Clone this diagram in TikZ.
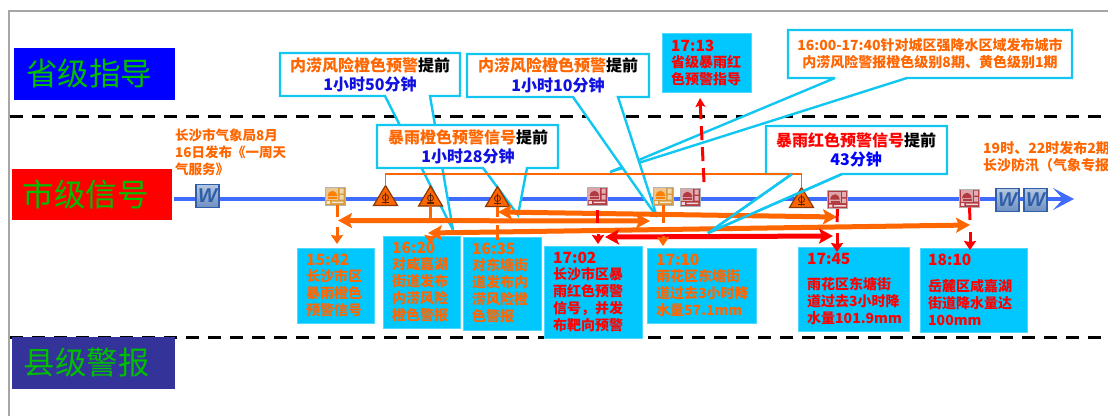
\documentclass[tikz,border=0pt]{standalone}
\usepackage{fontspec}
\setmainfont{Noto Sans CJK SC}
\newfontfamily\wordfont{Liberation Sans}
\usetikzlibrary{arrows.meta}
\definecolor{cy}{HTML}{00C8FF}
\definecolor{cyl}{HTML}{12C6F2}
\definecolor{ora}{HTML}{FF6600}
\definecolor{tlblue}{HTML}{3F6BFF}
\definecolor{redd}{HTML}{FF0000}
\definecolor{grn}{HTML}{00BE00}
\definecolor{txtblue}{HTML}{1010E0}
\definecolor{tan}{HTML}{D89A3A}
\definecolor{brk}{HTML}{B23A42}
\definecolor{wordb}{HTML}{2F5FA8}
\newcommand{\sz}[2]{\fontsize{#1}{#2}\selectfont}
\newcommand{\tm}[1]{{\fontsize{15.5}{16.7}\selectfont #1}}
\tikzset{
  levelbox/.style={inner sep=0pt,text=grn,font=\sz{31.5}{36}},
  infobox/.style={fill=cy,draw=cy!70!white,line width=.6pt,inner sep=0pt},
  infotext/.style={anchor=north west,inner sep=0pt,align=left,font=\sz{14}{16.7}\bfseries},
  calltext/.style={inner sep=0pt,align=center,font=\sz{16}{19.5}\bfseries},
  callline/.style={draw=cyl,line width=2.4pt,line join=miter,miter limit=3},
  sigbox/.style={draw=black!30,line width=.9pt,minimum width=20pt,minimum height=18pt,inner sep=0pt},
  wordbox/.style={draw=wordb,line width=1.4pt,top color=wordb!35!white,bottom color=wordb!70!white,minimum width=23pt,minimum height=23pt,inner sep=0pt,text=wordb,font=\wordfont\sz{20}{20}\bfseries\itshape},
  bigarrow/.style={line width=5pt,draw=ora},
  tipO/.style={{Stealth[length=14pt,width=15pt,inset=3pt]}-{Stealth[length=14pt,width=15pt,inset=3pt]}},
  conn/.style={line width=3pt},
  down/.style={-{Stealth[length=9pt,width=12pt,inset=1pt]}},
}
\newcommand{\info}[9]{% name cx cy w h tx ty colour text
  \node[infobox,minimum width=#4pt,minimum height=#5pt] (#1) at (#2,#3) {};
  \node[infotext,text=#8] (#1t) at (#6,#7) {\rule{0pt}{12pt}#9};
}
\newcommand{\sig}[6]{% name x y fill light dome
  \node[sigbox,fill=#4] (#1) at (#2,#3) {};
  \begin{scope}[shift={(#2,#3)}]
    \fill[#5] (-9,-8) rectangle (3.2,3.5);
    \fill[#6] (-7.5,0) .. controls (-6,-7) and (1,-7) .. (2.2,0) -- cycle;
    \fill[#6] (-7,1) rectangle (2,3);
    \fill[white!60!#4] (4.5,-7.4) rectangle (8.6,-2.3) (4.5,-.8) rectangle (8.6,3.6);
    \fill[white!80!#4] (-8.5,5) rectangle (-5.2,7.8) (-3.5,5.6) rectangle (8.4,7.2);
  \end{scope}
}
\newcommand{\tri}[3]{% name x ybase
  \coordinate (#1) at (#2,#3);
  \begin{scope}[shift={(#2,#3)}]
    \draw[fill=ora,draw=black!45!ora,line width=1.2pt,line join=miter] (-12,0) -- (0,-20) -- (12,0) -- cycle;
    \draw[black!65!ora,line width=.8pt] (0,-8) circle (3) (0,-13) -- (0,-2);
    \fill[black!65!ora] (-3.5,-3.6) rectangle (3.5,-2.2);
  \end{scope}
}
\def\pD{(788,30) -- (1072,30) -- (1072,78) -- (907,78) -- (610,172) -- (835,78) -- (788,78) -- cycle}
\def\pB{(467,54) -- (649,54) -- (649,97) -- (618,97) -- (657,217) -- (573,97) -- (467,97) -- cycle}
\def\pA{(280,53) -- (460,53) -- (460,96) -- (430,96) -- (453,230) -- (385,96) -- (280,96) -- cycle}
\def\pC{(377,125) -- (558,125) -- (558,168) -- (527,168) -- (518,215) -- (483,168) -- (377,168) -- cycle}
\def\pE{(766,126) -- (947,126) -- (947,174) -- (842,174) -- (708,233) -- (792,174) -- (766,174) -- cycle}
\begin{document}
\begin{tikzpicture}[x=1pt,y=-1pt]
\useasboundingbox (0,0) rectangle (1108,416);
% frame and level separators
\coordinate (fa) at (1108,11); \coordinate (fb) at (9,11); \coordinate (fc) at (9,416);
\draw[black!35,line width=1.5pt] (fa) -- (fb) -- (fc);
\coordinate (da) at (10,116); \coordinate (db) at (1108,116);
\coordinate (dc) at (10,337); \coordinate (dd) at (1108,337);
\draw[line width=3pt,dash pattern=on 13pt off 9pt] (da) -- (db);
\draw[line width=3pt,dash pattern=on 13pt off 9pt] (dc) -- (dd);
% level labels
\node[fill=blue,minimum width=161pt,minimum height=52pt,inner sep=0pt] (l1) at (94.5,74) {};
\node[fill=redd,minimum width=160pt,minimum height=51pt,inner sep=0pt] (l2) at (92,194.5) {};
\node[fill={rgb:red,51;green,51;blue,153},minimum width=163pt,minimum height=52pt,inner sep=0pt] (l3) at (93.5,363) {};
\node[levelbox] (l1t) at (89,73.5) {省级指导};
\node[levelbox] (l2t) at (85.5,194) {市级信号};
\node[levelbox] (l3t) at (86.5,363) {县级警报};
% time line
\coordinate (tls) at (174,199); \coordinate (tle) at (1074,199);
\draw[tlblue,line width=4.5pt,-{Stealth[length=21pt,width=22pt,inset=10pt]}] (tls) -- (tle);
% callouts
\path[fill=white] \pD; \path[callline] \pD;
\path[fill=white] \pB; \path[callline] \pB;
\path[fill=white] \pA; \path[callline] \pA;
\path[fill=white] \pC; \path[callline] \pC;
\path[fill=white] \pE; \path[callline] \pE;
\node[calltext] (ca) at (370,75) {{\color{ora}内涝风险橙色预警}提前\\{\color{txtblue}1小时50分钟}};
\node[calltext] (cb) at (558,75.5) {{\color{ora}内涝风险橙色预警}提前\\{\color{txtblue}1小时10分钟}};
\node[calltext] (cc) at (468,147) {{\color{ora}暴雨橙色预警信号}提前\\{\color{txtblue}1小时28分钟}};
\node[calltext] (ce) at (856,150) {{\color{redd}暴雨红色预警信号}提前\\{\color{blue}43分钟}};
\node[calltext,text=ora,font=\sz{14}{17}\bfseries] (cd) at (930,53.5) {16:00-17:40针对城区强降水区域发布城市\\内涝风险警报橙色级别8期、黄色级别1期};
% free texts
\node[infotext,text=ora,font=\sz{13.5}{17}\bfseries] (n1) at (175,128) {\rule{0pt}{12pt}长沙市气象局8月\\16日发布《一周天\\气服务》};
\node[infotext,text=ora,font=\sz{14}{17.5}\bfseries] (n2) at (983,141) {\rule{0pt}{12pt}19时、22时发布2期\\长沙防汛（气象专报};
% info boxes
\info{b1}{335.5}{285.5}{77}{75}{306}{253}{ora}{\tm{15:42}\\长沙市区\\暴雨橙色\\预警信号}
\info{b2}{421.5}{282}{77}{92}{392}{241}{ora}{\tm{16:20}\\对咸嘉湖\\街道发布\\内涝风险\\橙色警报}
\info{b3}{502}{283.5}{78}{93}{472}{242}{ora}{\tm{16:35}\\对东塘街\\道发布内\\涝风险橙\\色警报}
\info{b4}{593}{292}{98}{92}{553}{251}{redd}{\tm{17:02}\\长沙市区暴\\雨红色预警\\信号，并发\\布靶向预警}
\info{b5}{701.5}{285.5}{109}{75}{656}{253}{ora}{\tm{17:10}\\雨花区东塘街\\道过去3小时降\\水量57.1mm}
\info{b6}{853.5}{289}{111}{84}{807}{252}{redd}{\tm{17:45}\\[9pt]雨花区东塘街\\道过去3小时降\\水量101.9mm}
\info{b7}{973.5}{290}{107}{84}{928}{253}{redd}{\tm{18:10}\\[10pt]岳麓区咸嘉湖\\街道降水量达\\100mm}
\info{b8}{706.5}{62.5}{89}{59}{671}{39}{redd}{\tm{17:13}\\省级暴雨红\\色预警指导}
% icons
\node[wordbox] (w1) at (207.5,196) {W};
\node[wordbox] (w2) at (1007.5,200) {W};
\node[wordbox] (w3) at (1035.5,200) {W};
\sig{s1}{335}{196}{tan}{tan!55!white}{orange}
\sig{s2}{597}{196}{brk}{brk!45!white}{brk}
\sig{s3}{663}{196}{tan}{tan!55!white}{orange}
\sig{s4}{690}{197}{brk}{brk!45!white}{brk}
\sig{s5}{837.5}{199.5}{brk}{brk!45!white}{brk}
\sig{s6}{969.5}{198}{brk}{brk!45!white}{brk}
\tri{t1}{385.5}{205.5}
\tri{t2}{430.5}{206}
\tri{t3}{497.5}{206.5}
\tri{t4}{801.5}{207.5}
% orange bracket line over the triangles
\draw[ora,line width=1.5pt] (t1) ++(0,-20) |- (801.5,174) -- ++(0,14);
% horizontal period arrows
\coordinate (a1l) at (338,220.5); \coordinate (a1r) at (650,221);
\coordinate (a2l) at (498,212); \coordinate (a2r) at (837,217);
\coordinate (a3l) at (428,233); \coordinate (a3r) at (970,225);
\coordinate (a4l) at (605,237); \coordinate (a4r) at (833,236);
\draw[bigarrow,tipO] (a2l) -- (a2r);
\draw[bigarrow,tipO] (a3l) -- (a3r);
\draw[bigarrow,tipO] (a1l) -- (a1r);
\draw[bigarrow,draw=redd,tipO] (a4l) -- (a4r);
% redraw of the red callout's tail above the arrows
\path[callline] (842,174) -- (708,233) -- (792,174);
% connectors from icons down to boxes
\coordinate (k1a) at (337,217); \coordinate (k1b) at (337,227); \coordinate (k1c) at (337,244);
\draw[conn,ora] (s1.south) ++(2,0) -- (k1a);
\draw[conn,ora,down] (k1b) -- (k1c);
\coordinate (k2a) at (430.5,221); \coordinate (k2b) at (430.5,236); \coordinate (k2c) at (430.5,244);
\draw[conn,ora] (t2) -- (k2a);
\draw[conn,ora,down] (k2b) -- (k2c);
\coordinate (k3a) at (497.5,217); \coordinate (k3b) at (497.5,225); \coordinate (k3c) at (497.5,240);
\draw[conn,ora] (t3) -- (k3a);
\draw[conn,ora,line width=3.5pt] (k3b) -- (k3c);
\coordinate (k4a) at (597,210); \coordinate (k4b) at (597,223); \coordinate (k4c) at (598,234); \coordinate (k4d) at (598,244);
\draw[conn,redd] (k4a) -- (k4b);
\draw[conn,redd,down] (k4c) -- (k4d);
\coordinate (k5a) at (663,223); \coordinate (k5b) at (663,236); \coordinate (k5c) at (663,246);
\draw[conn,ora] (s3.south) -- (k5a);
\draw[conn,ora,down] (k5b) -- (k5c);
\coordinate (k6a) at (837,222); \coordinate (k6b) at (837,233); \coordinate (k6c) at (837,252);
\draw[conn,redd] (s5.south) -- (k6a);
\draw[conn,redd,down] (k6b) -- (k6c);
\coordinate (k7a) at (970,220); \coordinate (k7b) at (970,232); \coordinate (k7c) at (970,250);
\draw[conn,redd] (s6.south) -- (k7a);
\draw[conn,redd,down] (k7b) -- (k7c);
\coordinate (k8a) at (704,182); \coordinate (k8b) at (700,98);
\draw[conn,redd,dash pattern=on 14pt off 7pt,-{Stealth[length=9pt,width=10pt,inset=2pt]}] (k8a) -- (k8b);
\end{tikzpicture}
\end{document}
